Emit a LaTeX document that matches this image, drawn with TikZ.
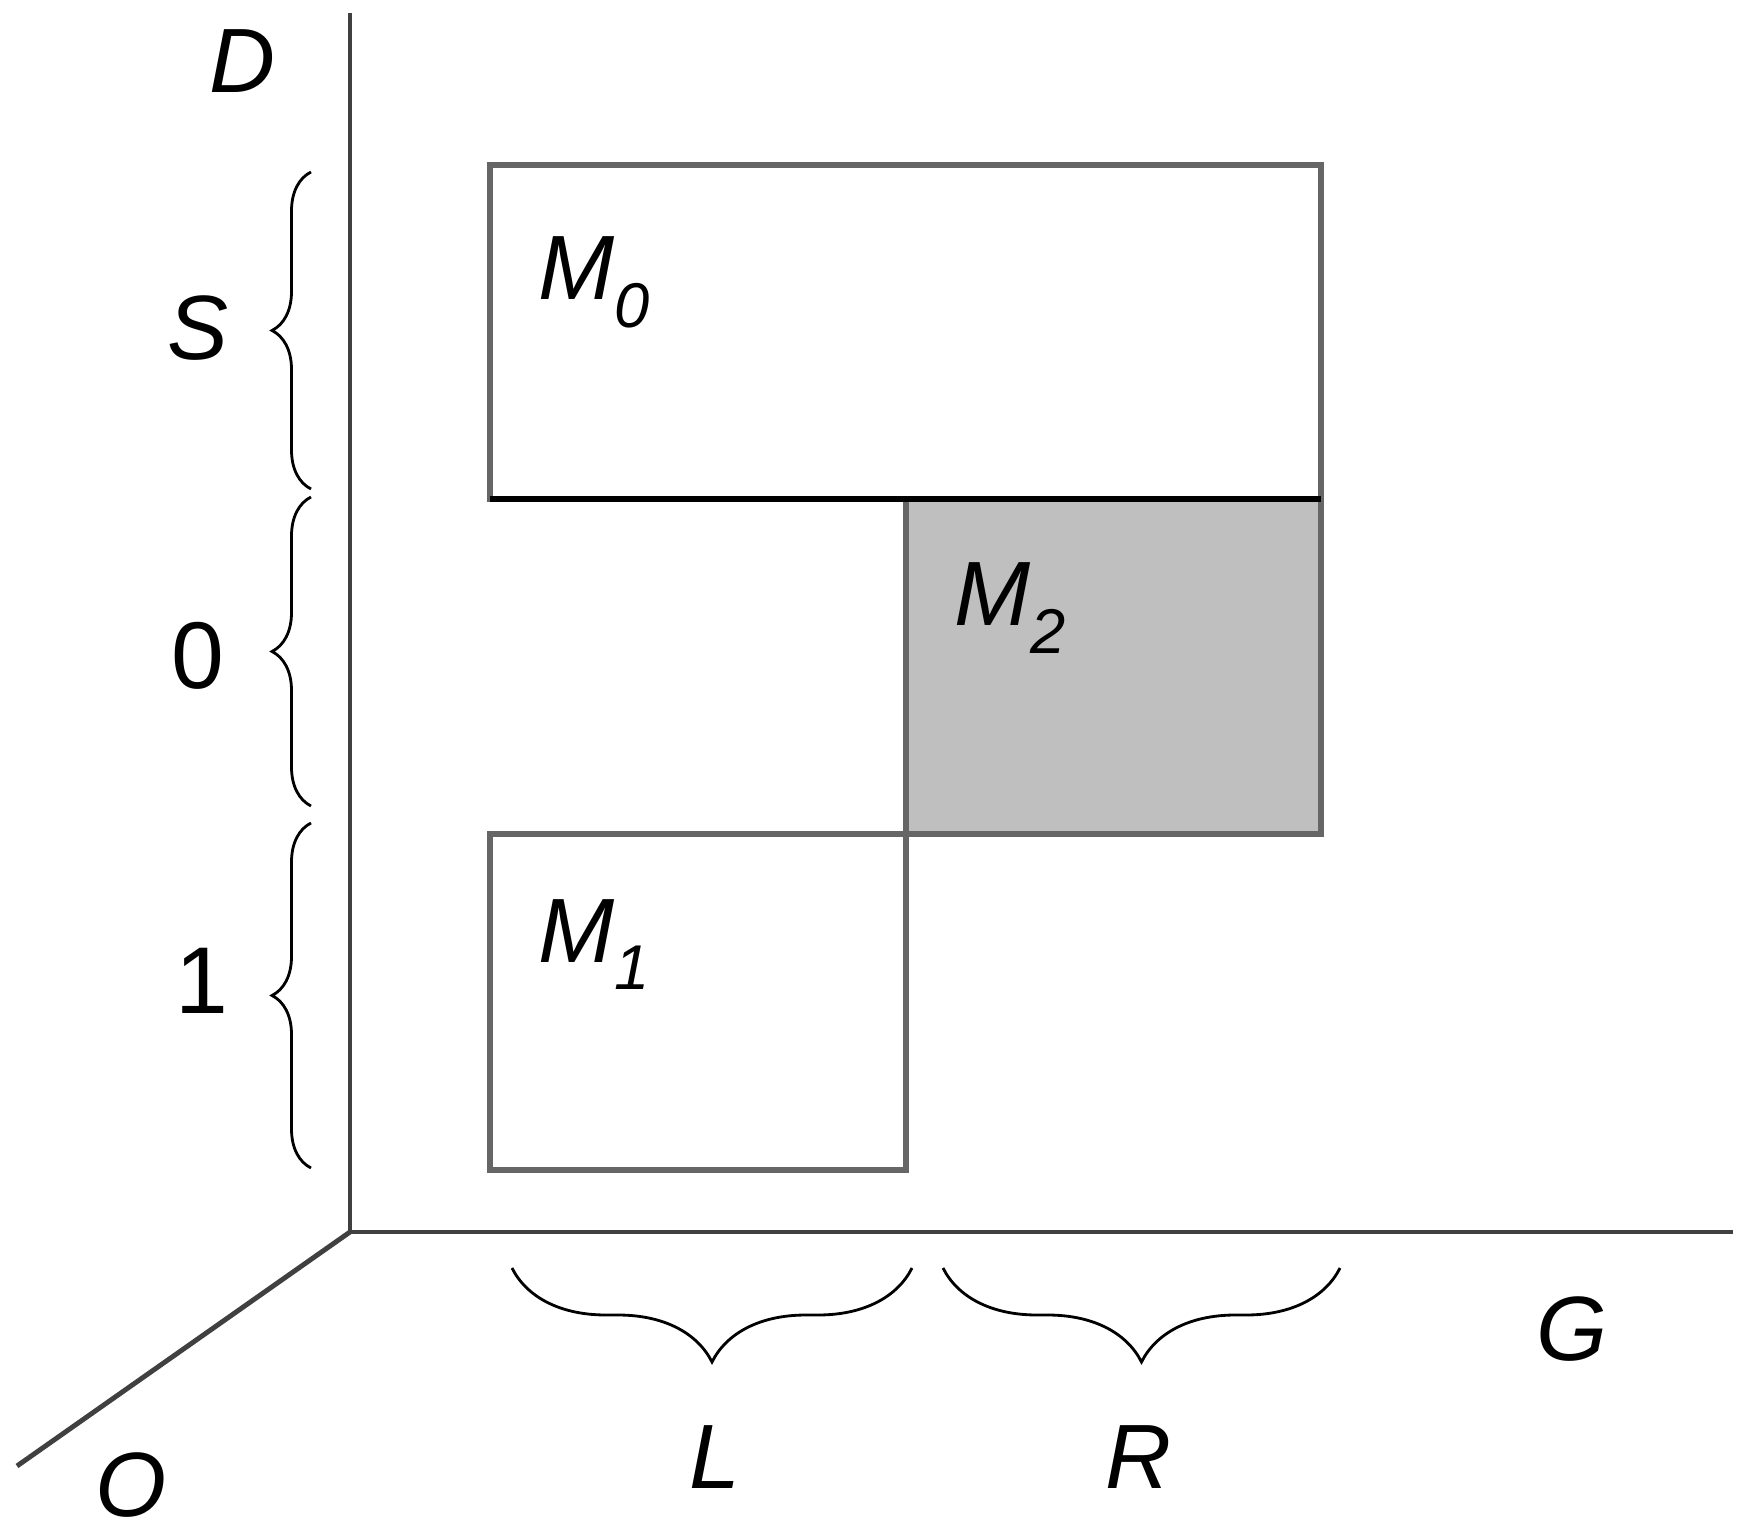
\documentclass[tikz,border=0pt]{standalone}
\usepackage{fontspec}
\setmainfont{Liberation Sans}
\usetikzlibrary{decorations.pathreplacing}
\tikzset{%
  axis/.style={draw=black!75, line width=1.4pt},
  box/.style={draw=black!60, line width=1.5pt},
  brc/.style={decorate, decoration={brace, amplitude=#1}, line width=0.8pt},
  lab/.style={font=\fontsize{26}{26}\selectfont\itshape},
}
\newcommand{\Mlab}[1]{M\raisebox{-0.3em}{\fontsize{18}{18}\selectfont #1}}

\begin{document}
\begin{tikzpicture}
    \useasboundingbox (0,0) rectangle (17.44,15.38);
    \coordinate (O) at (3.50,3.06);
    \coordinate (D) at (3.50,15.25);
    \coordinate (G) at (17.33,3.06);
    \coordinate (Z) at (0.17,0.72);

    %axes
    \draw[axis] (D) -- (O) -- (G);
    \draw[axis] (O) -- (Z);

    %blocks
    \draw[box, fill=black!25] (9.06,7.04) rectangle (13.21,10.39);
    \draw[box] (4.90,10.39) rectangle (13.21,13.73);
    \draw[box] (4.90,3.68) rectangle (9.06,7.04);
    \draw[black, line width=1.5pt] (4.90,10.39) -- (13.21,10.39);

    \node[lab, anchor=base west, inner sep=0pt] (m0) at (5.38,12.38) {\Mlab{0}};
    \node[lab, anchor=base west, inner sep=0pt] (m2) at (9.54,9.12) {\Mlab{2}};
    \node[lab, anchor=base west, inner sep=0pt] (m1) at (5.38,5.76) {\Mlab{1}};

    % braces on the left
    \draw[brc=0.39cm] (3.11,10.49) -- (3.11,13.66);
    \draw[brc=0.39cm] (3.11,7.32) -- (3.11,10.41);
    \draw[brc=0.39cm] (3.11,3.70) -- (3.11,7.15);
    % braces below
    \draw[brc=0.94cm] (9.12,2.70) -- (5.12,2.70);
    \draw[brc=0.94cm] (13.40,2.70) -- (9.43,2.70);

    \node[lab] (d) at (2.42,14.77) {D};
    \node[lab] (s) at (1.98,12.10) {S};
    \node[lab, font=\fontsize{27}{27}\selectfont] (zero) at (1.98,8.82) {0};
    \node[lab, font=\fontsize{27}{27}\selectfont] (one) at (2.02,5.57) {1};
    \node[lab] (o) at (1.31,0.53) {O};
    \node[lab] (l) at (7.15,0.81) {L};
    \node[lab] (r) at (11.38,0.81) {R};
    \node[lab] (g) at (15.72,2.09) {G};
\end{tikzpicture}
\end{document}
